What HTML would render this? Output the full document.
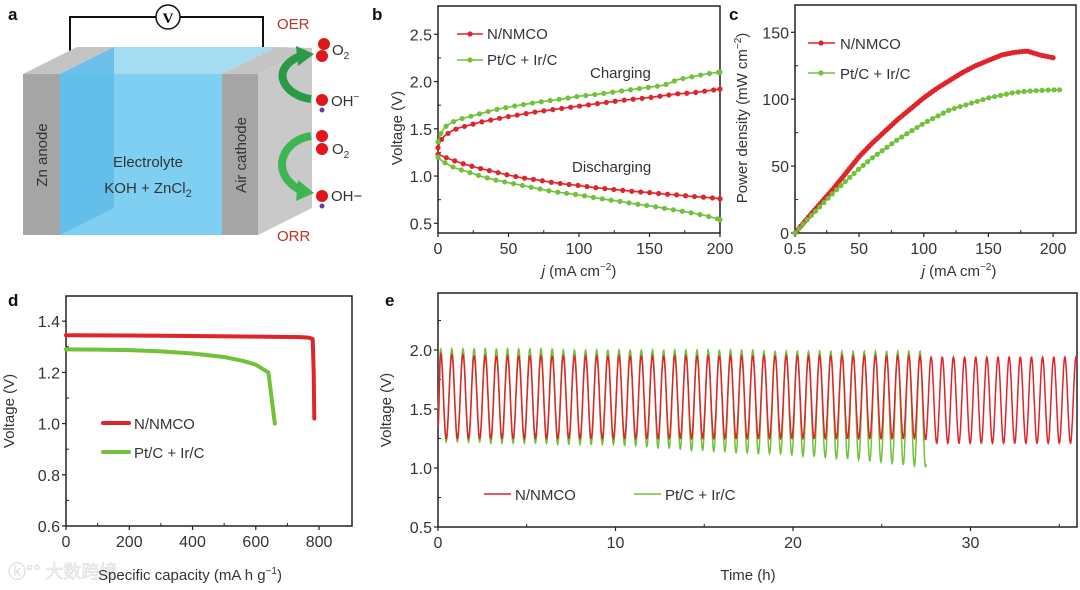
<!DOCTYPE html>
<html><head><meta charset="utf-8"><style>
html,body{margin:0;padding:0;background:#fff;width:1080px;height:590px;overflow:hidden}
svg{display:block;font-family:"Liberation Sans","Noto Sans CJK SC",sans-serif}
.tk{font-size:16px;fill:#333}
.tt{font-size:15px;fill:#333}
.pl{font-size:17px;font-weight:bold;fill:#111}
</style></head><body>
<svg id="fig" width="1080" height="590" viewBox="0 0 1080 590">
<g>
<text class="pl" x="8" y="20">a</text>
<polyline points="70,58 70,17 156,17" fill="none" stroke="#111" stroke-width="2"/>
<polyline points="180,17 263,17 263,58" fill="none" stroke="#111" stroke-width="2"/>
<circle cx="168" cy="17" r="12" fill="#fff" stroke="#111" stroke-width="1.5"/>
<text x="168" y="23" text-anchor="middle" font-family="Liberation Serif,serif" font-weight="bold" font-size="15">V</text>
<polygon points="258,74 312,48 312,208 258,235" fill="#c9c9c9"/>
<polygon points="23,74 77,47 114,47 60,74" fill="#c4c4c4"/>
<polygon points="60,74 114,47 276,47 222,74" fill="#a6dcf2"/>
<polygon points="222,74 276,47 312,48 258,74" fill="#c4c4c4"/>
<rect x="23" y="74" width="37" height="161" fill="#a5a5a5"/>
<rect x="60" y="74" width="162" height="161" fill="#7fcff3"/>
<polygon points="60,74 114,47 114,208 60,235" fill="#5cb9e6" opacity="0.8"/>
<rect x="222" y="74" width="36" height="161" fill="#a5a5a5"/>
<text class="tt" transform="translate(47,155) rotate(-90)" text-anchor="middle" font-size="16">Zn anode</text>
<text class="tt" transform="translate(246,155) rotate(-90)" text-anchor="middle" font-size="16">Air cathode</text>
<text class="tt" x="148" y="167" text-anchor="middle" font-size="16">Electrolyte</text>
<text class="tt" x="148" y="193" text-anchor="middle" font-size="16">KOH + ZnCl<tspan font-size="11" dy="4">2</tspan></text>
<path d="M311,99 C285,96 268,70 300,56" fill="none" stroke="#2a9a46" stroke-width="8"/>
<polygon points="296,46 314,54 298,66" fill="#2a9a46"/>
<path d="M311,136 C283,140 268,172 300,190" fill="none" stroke="#3cb552" stroke-width="8"/>
<polygon points="298,180 314,193 296,201" fill="#3cb552"/>
<text x="277" y="29" font-size="15" fill="#b8322e">OER</text>
<text x="277" y="241" font-size="15" fill="#b8322e">ORR</text>
<circle cx="324" cy="44" r="6" fill="#e0161b"/><circle cx="322" cy="56" r="6" fill="#e0161b"/>
<text class="tt" x="332" y="55" font-size="15">O<tspan font-size="10" dy="4">2</tspan></text>
<circle cx="322" cy="100" r="6" fill="#e0161b"/><circle cx="322" cy="110" r="2.5" fill="#6a3aa0"/>
<text class="tt" x="331" y="106" font-size="15">OH<tspan font-size="10" dy="-6">−</tspan></text>
<circle cx="322" cy="136" r="6" fill="#e0161b"/><circle cx="322" cy="149" r="6" fill="#e0161b"/>
<text class="tt" x="332" y="154" font-size="15">O<tspan font-size="10" dy="4">2</tspan></text>
<circle cx="322" cy="196" r="6" fill="#e0161b"/><circle cx="322" cy="206" r="2.5" fill="#6a3aa0"/>
<text class="tt" x="331" y="201" font-size="15">OH−</text>
</g>
<g id="pb"></g>
<g id="pc"></g>
<g id="pd"></g>
<g id="pe"></g>
</svg>
<script>
// Panel b data
const jB = [0,2,5,10,15,20,30,40,50,60,70,80,90,100,110,120,130,140,150,160,170,180,190,200];
const redCharge = [1.30,1.38,1.43,1.48,1.51,1.53,1.57,1.60,1.63,1.655,1.68,1.70,1.72,1.74,1.76,1.78,1.80,1.815,1.83,1.85,1.87,1.88,1.90,1.92];
const greenCharge = [1.36,1.45,1.52,1.57,1.60,1.62,1.66,1.70,1.73,1.755,1.78,1.80,1.82,1.845,1.86,1.88,1.90,1.92,1.94,1.96,2.02,2.05,2.08,2.10];
const redDischarge = [1.23,1.22,1.20,1.17,1.145,1.12,1.08,1.045,1.01,0.98,0.96,0.935,0.915,0.90,0.88,0.865,0.85,0.835,0.825,0.81,0.80,0.785,0.775,0.76];
const greenDischarge = [1.20,1.17,1.14,1.10,1.07,1.05,1.00,0.96,0.93,0.90,0.87,0.84,0.82,0.80,0.775,0.75,0.73,0.705,0.685,0.66,0.635,0.61,0.58,0.54];
const bXTicks = [0,50,100,150,200];
const bYTicks = [0.5,1.0,1.5,2.0,2.5];
// Panel c data
const jCRed = [0.5,10,20,30,40,50,60,70,80,90,100,110,120,130,140,150,160,170,180,190,200];
const powerRed = [0,11,22,33,45,57,67,76,85,93,101,108,114,120,125,129,133,135,136,133,131];
const jCGreen = [0.5,10,20,30,40,50,60,70,80,90,100,110,120,130,140,150,160,170,180,190,200,205];
const powerGreen = [0,10,20,30,39,48,56,63,70,76,82,87,92,95,98,101,103,105,106,106.5,107,107];
const cXTicks = [0.5,50,100,150,200];
const cXLabels = ["0.5","50","100","150","200"];
const cYTicks = [0,50,100,150];
// Panel d data
const capRed = [0,200,400,600,740,770,780,783,785];
const voltRed = [1.345,1.344,1.342,1.34,1.338,1.335,1.33,1.2,1.02];
const capGreen = [0,100,200,300,400,500,560,600,640,650,660];
const voltGreen = [1.29,1.289,1.287,1.282,1.274,1.26,1.245,1.23,1.2,1.1,1.0];
const dXTicks = [0,200,400,600,800];
const dYTicks = [0.6,0.8,1.0,1.2,1.4];
// Panel e data (per-cycle peak/trough voltages)
const cyclePeriod = 0.628;
const redPeaks = [1.97,1.96,1.96,1.95,1.95,1.95,1.95,1.95,1.95,1.95,1.95,1.95,1.95,1.95,1.95,1.95,1.95,1.95,1.95,1.95,1.95,1.95,1.95,1.95,1.95,1.95,1.95,1.95,1.95,1.95,1.95,1.95,1.95,1.95,1.95,1.95,1.95,1.95,1.95,1.95,1.95,1.95,1.95,1.95,1.94,1.94,1.94,1.94,1.94,1.94,1.94,1.94,1.94,1.94,1.94,1.94,1.94,1.94];
const redTroughs = [1.25,1.25,1.25,1.25,1.25,1.25,1.25,1.25,1.25,1.25,1.25,1.25,1.25,1.25,1.25,1.25,1.25,1.25,1.25,1.25,1.25,1.25,1.25,1.25,1.25,1.25,1.25,1.25,1.25,1.25,1.25,1.25,1.25,1.25,1.25,1.25,1.25,1.25,1.25,1.25,1.25,1.25,1.25,1.24,1.21,1.21,1.21,1.21,1.21,1.21,1.21,1.21,1.21,1.21,1.21,1.21,1.21,1.21];
const greenPeaks = [2.01,2.01,2.01,2.01,2.01,2.01,2.01,2.01,2.01,2.01,2.01,2.0,2.0,2.0,2.0,2.0,2.0,2.0,2.0,2.0,2.0,2.0,2.0,2.0,2.0,2.0,2.0,2.0,2.0,1.99,1.99,1.99,1.99,1.99,1.99,1.99,1.99,1.99,1.99,1.99,1.99,1.99,1.99,1.99,1.99];
const greenTroughs = [1.22,1.22,1.22,1.22,1.21,1.21,1.21,1.21,1.21,1.21,1.2,1.2,1.2,1.2,1.2,1.2,1.19,1.19,1.18,1.17,1.17,1.16,1.15,1.15,1.14,1.14,1.13,1.13,1.12,1.12,1.12,1.11,1.1,1.1,1.09,1.08,1.08,1.07,1.06,1.05,1.04,1.03,1.02,1.01];
const greenEnd = 27.5;
const eXTicks = [0,10,20,30];
const eYTicks = [0.5,1.0,1.5,2.0];

const NS='http://www.w3.org/2000/svg';
function mk(parent,tag,attrs,text){const e=document.createElementNS(NS,tag);for(const k in attrs)e.setAttribute(k,attrs[k]);if(text!==undefined)e.textContent=text;parent.appendChild(e);return e;}
const RED='#e0242b', GREEN='#72c13b';

function frame(g,x0,y0,x1,y1){
  const f=mk(g,'rect',{x:x0,y:y0,width:x1-x0,height:y1-y0,fill:'none',stroke:'#222','stroke-width':1.5});
  
  
}
function xTicks(g,ticks,labels,sx,yb,minor,name){
  ticks.forEach((t,i)=>{
    mk(g,'line',{x1:sx(t),x2:sx(t),y1:yb,y2:yb+4,stroke:'#222','stroke-width':1.2});
    const tx=mk(g,'text',{x:sx(t),y:yb+21,'text-anchor':'middle',class:'tk'},labels?labels[i]:String(t));
    
    
  });
  minor.forEach(t=>mk(g,'line',{x1:sx(t),x2:sx(t),y1:yb,y2:yb-3,stroke:'#222','stroke-width':1}));
}
function yTicks(g,ticks,fmt,sy,xl,minor,name){
  ticks.forEach(t=>{
    mk(g,'line',{x1:xl-4,x2:xl,y1:sy(t),y2:sy(t),stroke:'#222','stroke-width':1.2});
    const tx=mk(g,'text',{x:xl-6,y:sy(t)+6,'text-anchor':'end',class:'tk'},fmt(t));
    
    
  });
  minor.forEach(t=>mk(g,'line',{x1:xl,x2:xl+3,y1:sy(t),y2:sy(t),stroke:'#222','stroke-width':1}));
}
function pathD(xs,ys,sx,sy){return xs.map((x,i)=>(i?'L':'M')+sx(x).toFixed(1)+','+sy(ys[i]).toFixed(1)).join('');}
function markers(g,xs,ys,sx,sy,color,r,step,name){
  let pts=xs.map((x,i)=>[sx(x),sy(ys[i])]);
  let acc=step;
  for(let i=1;i<pts.length;i++){
    const [ax,ay]=pts[i-1],[bx,by]=pts[i];const L=Math.hypot(bx-ax,by-ay);
    let d=step-acc;
    while(d<=L){const f=L?d/L:0;const c=mk(g,'circle',{cx:ax+(bx-ax)*f,cy:ay+(by-ay)*f,r:r,fill:color});
      
      
      d+=step;}
    acc = L - (d-step);
  }
  const last=pts[pts.length-1];const c=mk(g,'circle',{cx:last[0],cy:last[1],r:r,fill:color});
  
  
}

// ---- Panel b ----
(function(){
  const g=document.getElementById('pb');
  const sx=j=>438+j*1.41, sy=v=>223.3-(v-0.5)*94.5;
  mk(g,'text',{x:372,y:20,class:'pl'},'b');
  frame(g,438,6,720,233);
  xTicks(g,bXTicks,null,sx,233,[25,75,125,175],'panel-b');
  yTicks(g,bYTicks,v=>v.toFixed(1),sy,438,[0.75,1.25,1.75,2.25],'panel-b');
  [[redCharge,RED,'n-nmco-charging'],[redDischarge,RED,'n-nmco-discharging'],[greenCharge,GREEN,'ptc-irc-charging'],[greenDischarge,GREEN,'ptc-irc-discharging']].forEach(([ys,c,n])=>{
    const p=mk(g,'path',{d:pathD(jB,ys,sx,sy),fill:'none',stroke:c,'stroke-width':1.6});
    
    
    markers(g,jB,ys,sx,sy,c,2.6,9,n+'-marker');
  });
  [[RED,'N/NMCO',34],[GREEN,'Pt/C + Ir/C',60]].forEach(([c,t,y])=>{
    mk(g,'line',{x1:457,x2:483,y1:y,y2:y,stroke:c,'stroke-width':1.6});
    mk(g,'circle',{cx:470,cy:y,r:2.6,fill:c});
    const tx=mk(g,'text',{x:487,y:y+5,class:'tt'},t);
    
    
  });
  mk(g,'text',{x:590,y:78,class:'tt'},'Charging');
  mk(g,'text',{x:572,y:172,class:'tt'},'Discharging');
  const yt=mk(g,'text',{transform:'translate(402,128) rotate(-90)','text-anchor':'middle',class:'tt'},'Voltage (V)');
  
  const xt=mk(g,'text',{x:579,y:276,'text-anchor':'middle',class:'tt'});
  xt.innerHTML='<tspan font-style="italic">j</tspan> (mA cm<tspan font-size="10" dy="-6">−2</tspan><tspan dy="6">)</tspan>';
  
})();

// ---- Panel c ----
(function(){
  const g=document.getElementById('pc');
  const sx=j=>794.4+j*1.2935, sy=p=>233-p*1.338;
  mk(g,'text',{x:729,y:20,class:'pl'},'c');
  frame(g,795,5,1076,233);
  xTicks(g,cXTicks,cXLabels,sx,233,[25,75,125,175],'panel-c');
  yTicks(g,cYTicks,v=>String(v),sy,795,[25,75,125],'panel-c');
  [[jCRed,powerRed,RED,'n-nmco-power',3],[jCGreen,powerGreen,GREEN,'ptc-irc-power',6]].forEach(([xs,ys,c,n,st])=>{
    const p=mk(g,'path',{d:pathD(xs,ys,sx,sy),fill:'none',stroke:c,'stroke-width':1.6});
    
    
    markers(g,xs,ys,sx,sy,c,2.6,st,n+'-marker');
  });
  [[RED,'N/NMCO',43],[GREEN,'Pt/C + Ir/C',73]].forEach(([c,t,y])=>{
    mk(g,'line',{x1:808,x2:835,y1:y,y2:y,stroke:c,'stroke-width':1.6});
    mk(g,'circle',{cx:821,cy:y,r:2.6,fill:c});
    const tx=mk(g,'text',{x:840,y:y+6,class:'tt'},t);
    
    
  });
  const yt=mk(g,'text',{transform:'translate(747,118) rotate(-90)','text-anchor':'middle',class:'tt'});
  yt.innerHTML='Power density (mW cm<tspan font-size="10" dy="-6">−2</tspan><tspan dy="6">)</tspan>';
  
  const xt=mk(g,'text',{x:959,y:276,'text-anchor':'middle',class:'tt'});
  xt.innerHTML='<tspan font-style="italic">j</tspan> (mA cm<tspan font-size="10" dy="-6">−2</tspan><tspan dy="6">)</tspan>';
  
})();

// ---- Panel d ----
(function(){
  const g=document.getElementById('pd');
  const sx=c=>66+c*0.3163, sy=v=>526-(v-0.6)*256;
  mk(g,'text',{x:8,y:306,class:'pl'},'d');
  frame(g,66,296,352,526);
  xTicks(g,dXTicks,null,sx,526,[100,300,500,700],'panel-d');
  yTicks(g,dYTicks,v=>v.toFixed(1),sy,66,[0.7,0.9,1.1,1.3],'panel-d');
  [[capRed,voltRed,RED,'n-nmco-discharge-curve'],[capGreen,voltGreen,GREEN,'ptc-irc-discharge-curve']].forEach(([xs,ys,c,n])=>{
    const p=mk(g,'path',{d:pathD(xs,ys,sx,sy),fill:'none',stroke:c,'stroke-width':4,'stroke-linejoin':'round','stroke-linecap':'round'});
    
    
  });
  [[RED,'N/NMCO',423],[GREEN,'Pt/C + Ir/C',452]].forEach(([c,t,y])=>{
    mk(g,'line',{x1:103,x2:129,y1:y,y2:y,stroke:c,'stroke-width':4,'stroke-linecap':'round'});
    const tx=mk(g,'text',{x:134,y:y+6,class:'tt',"font-size":"16"},t);
    
    
  });
  const yt=mk(g,'text',{transform:'translate(14,411) rotate(-90)','text-anchor':'middle',class:'tt'},'Voltage (V)');
  
  mk(g,'text',{x:8,y:578,'font-size':'18',fill:'#f2f2f2',stroke:'#ddd','stroke-width':'0.6'},'\u24DA\u00B0\u00B0 大数跨境');
  const xt=mk(g,'text',{x:190,y:580,'text-anchor':'middle',class:'tt'});
  xt.innerHTML='Specific capacity (mA h g<tspan font-size="10" dy="-6">−1</tspan><tspan dy="6">)</tspan>';
  
})();

// ---- Panel e ----
(function(){
  const g=document.getElementById('pe');
  const sx=t=>438+t*17.75, sy=v=>527-(v-0.5)*118;
  mk(g,'text',{x:385,y:306,class:'pl'},'e');
  frame(g,438,293,1077,527);
  xTicks(g,eXTicks,null,sx,527,[5,15,25,35],'panel-e');
  yTicks(g,eYTicks,v=>v.toFixed(1),sy,438,[0.75,1.25,1.75,2.25],'panel-e');
  const t0=0.15;
  function wave(peaks,troughs,tEnd,startV){
    let d='M'+sx(0).toFixed(1)+','+sy(startV).toFixed(1);
    for(let t=0.02;t<=tEnd+1e-9;t+=0.02){
      let v;
      if(t<t0){v=startV+(peaks[0]-startV)*(1-Math.cos(Math.PI*t/t0))/2;}
      else{
        const u=(t-t0)/cyclePeriod;const k=Math.floor(u);const f=u-k;
        const pk=peaks[Math.min(k,peaks.length-1)], tr=troughs[Math.min(k,troughs.length-1)], pn=peaks[Math.min(k+1,peaks.length-1)];
        if(f<0.5){v=tr+(pk-tr)*(1+Math.cos(Math.PI*f*2))/2;}
        else{v=tr+(pn-tr)*(1-Math.cos(Math.PI*(f-0.5)*2))/2;}
      }
      d+='L'+sx(t).toFixed(1)+','+sy(v).toFixed(1);
    }
    return d;
  }
  const gp=mk(g,'path',{d:wave(greenPeaks,greenTroughs,greenEnd,1.5),fill:'none',stroke:GREEN,'stroke-width':1.5});
  
  
  const rp=mk(g,'path',{d:wave(redPeaks,redTroughs,36,1.35),fill:'none',stroke:RED,'stroke-width':1.5});
  
  
  [[RED,'N/NMCO',484,515],[GREEN,'Pt/C + Ir/C',634,665]].forEach(([c,t,x,tx0])=>{
    mk(g,'line',{x1:x,x2:x+27,y1:494,y2:494,stroke:c,'stroke-width':1.5});
    const tx=mk(g,'text',{x:tx0,y:500,class:'tt'},t);
    
    
  });
  const yt=mk(g,'text',{transform:'translate(391,410) rotate(-90)','text-anchor':'middle',class:'tt'},'Voltage (V)');
  
  const xt=mk(g,'text',{x:748,y:580,'text-anchor':'middle',class:'tt'},'Time (h)');
  
})();
</script>
</body></html>
